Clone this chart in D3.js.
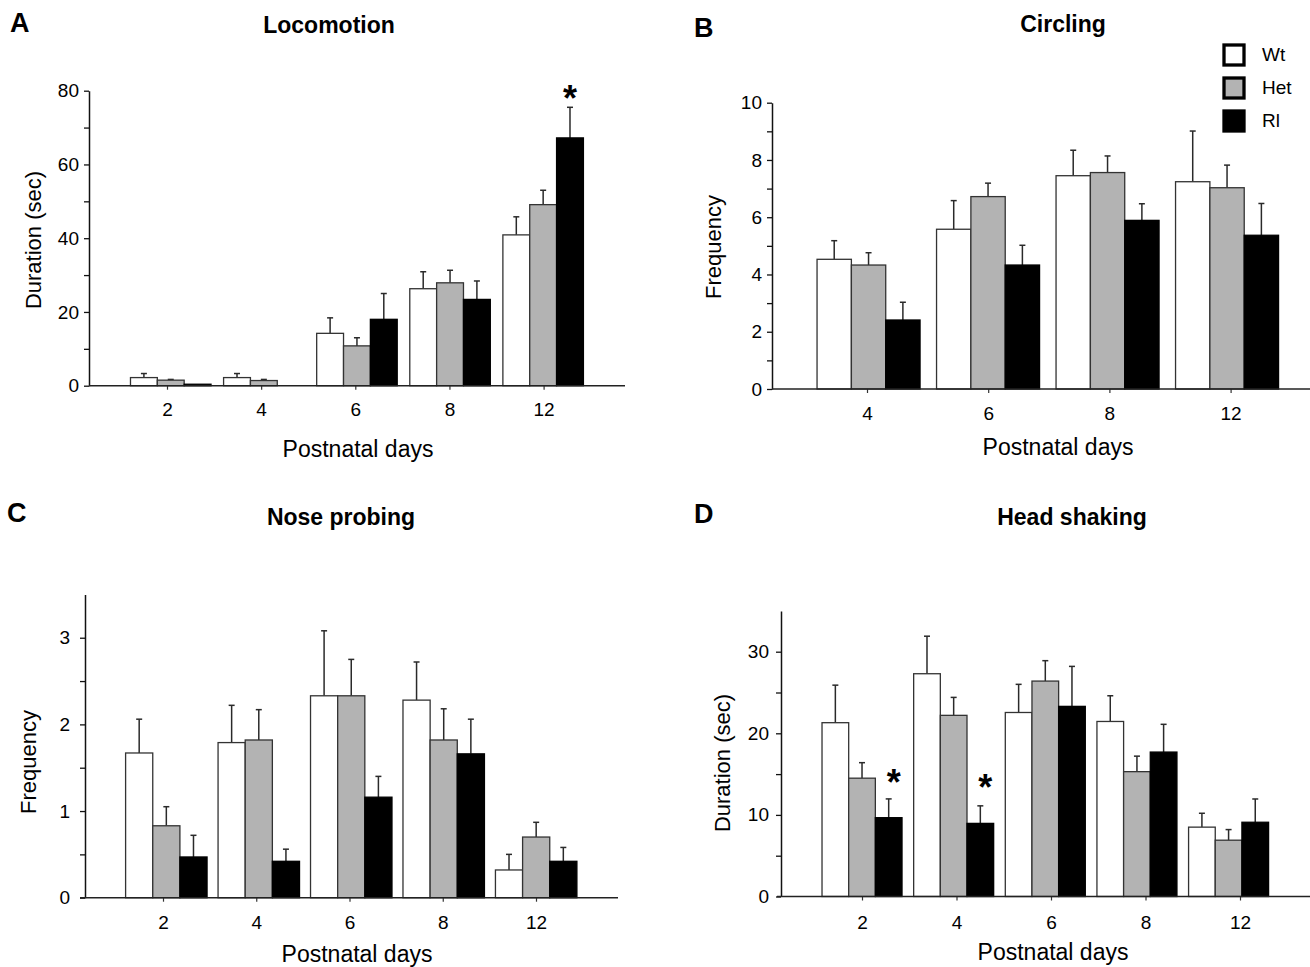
<!DOCTYPE html>
<html><head><meta charset="utf-8">
<script src="https://cdn.jsdelivr.net/npm/d3@7"></script>
<style>body{margin:0;background:#fff}svg text{font-family:"Liberation Sans",Arial,sans-serif;fill:#000}</style>
</head><body>
<svg id="chart" width="1310" height="967"></svg>
<script>
// ---------------- DATA ----------------
const seriesNames = ["Wt", "Het", "Rl"];

// A: Locomotion, duration (sec)
const locoDays = ["2", "4", "6", "8", "12"];
const locoWt = [2.2, 2.2, 14.2, 26.3, 40.9];
const locoHet = [1.5, 1.4, 10.8, 27.9, 49.1];
const locoRl = [0.4, 0.0, 18.0, 23.4, 67.2];
const locoWtSem = [1.1, 1.1, 4.2, 4.6, 4.9];
const locoHetSem = [0.2, 0.3, 2.2, 3.4, 3.9];
const locoRlSem = [0, 0, 7.0, 5.0, 8.3];
const locoTicks = [0, 20, 40, 60, 80];
const locoMinor = [10, 30, 50, 70];
const locoStars = [{ day: "12", series: "Rl", at: 80 }];

// B: Circling, frequency
const circDays = ["4", "6", "8", "12"];
const circWt = [4.53, 5.58, 7.45, 7.24];
const circHet = [4.33, 6.72, 7.56, 7.03];
const circRl = [2.41, 4.33, 5.89, 5.37];
const circWtSem = [0.65, 1.0, 0.89, 1.77];
const circHetSem = [0.43, 0.47, 0.58, 0.79];
const circRlSem = [0.62, 0.69, 0.58, 1.11];
const circTicks = [0, 2, 4, 6, 8, 10];
const circMinor = [1, 3, 5, 7, 9];

// C: Nose probing, frequency
const noseDays = ["2", "4", "6", "8", "12"];
const noseWt = [1.67, 1.79, 2.33, 2.28, 0.32];
const noseHet = [0.83, 1.82, 2.33, 1.82, 0.70];
const noseRl = [0.47, 0.42, 1.16, 1.66, 0.42];
const noseWtSem = [0.39, 0.43, 0.75, 0.44, 0.18];
const noseHetSem = [0.22, 0.35, 0.42, 0.36, 0.17];
const noseRlSem = [0.25, 0.14, 0.24, 0.40, 0.16];
const noseTicks = [0, 1, 2, 3];
const noseMinor = [0.5, 1.5, 2.5];

// D: Head shaking, duration (sec)
const headDays = ["2", "4", "6", "8", "12"];
const headWt = [21.3, 27.3, 22.55, 21.45, 8.5];
const headHet = [14.5, 22.2, 26.4, 15.3, 6.9];
const headRl = [9.66, 8.96, 23.3, 17.7, 9.1];
const headWtSem = [4.6, 4.6, 3.45, 3.15, 1.7];
const headHetSem = [1.9, 2.2, 2.5, 1.9, 1.3];
const headRlSem = [2.3, 2.15, 4.9, 3.4, 2.85];
const headTicks = [0, 10, 20, 30];
const headMinor = [5, 15, 25];
const headStars = [{ day: "2", series: "Rl", at: 14.9 }, { day: "4", series: "Rl", at: 14.3 }];

// ---------------- STYLE ----------------
const fills = { Wt: "#ffffff", Het: "#b3b3b3", Rl: "#000000" };
const svg = d3.select("#chart");

const panels = [
  { letter: "A", letterPos: [10, 32], title: "Locomotion", titlePos: [329, 33],
    days: locoDays, values: [locoWt, locoHet, locoRl], sems: [locoWtSem, locoHetSem, locoRlSem],
    yDomain: [0, 80], yRange: [385.7, 90.7], major: locoTicks, minor: locoMinor,
    band: [124.2, 589.7], pad: 0.135, tickRange: [167, 543.6], xLine: [89, 625], yAxisX: 89,
    yLabel: "Duration (sec)", yLabelPos: [33, 240], xLabelPos: [358, 457], tickPad: 5, tickY: 13,
    stars: locoStars, starDx: 0 },
  { letter: "B", letterPos: [694, 37], title: "Circling", titlePos: [1063, 32],
    days: circDays, values: [circWt, circHet, circRl], sems: [circWtSem, circHetSem, circRlSem],
    yDomain: [0, 10], yRange: [389, 102.7], major: circTicks, minor: circMinor,
    band: [808.8, 1286.8], pad: 0.138, tickRange: [867, 1230.6], xLine: [772, 1310], yAxisX: 772,
    yLabel: "Frequency", yLabelPos: [713, 247], xLabelPos: [1058, 455], tickPad: 5, tickY: 14,
    stars: [], starDx: 0, legend: true },
  { letter: "C", letterPos: [7, 522], title: "Nose probing", titlePos: [341, 525],
    days: noseDays, values: [noseWt, noseHet, noseRl], sems: [noseWtSem, noseHetSem, noseRlSem],
    yDomain: [0, 3.5], yRange: [897.7, 594.4], major: noseTicks, minor: noseMinor,
    band: [120.1, 582.4], pad: 0.119, tickRange: [163, 536], xLine: [80, 618], yAxisX: 85,
    yLabel: "Frequency", yLabelPos: [28, 762], xLabelPos: [357, 962], tickPad: 10, tickY: 14,
    stars: [], starDx: 0 },
  { letter: "D", letterPos: [694, 523], title: "Head shaking", titlePos: [1072, 525],
    days: headDays, values: [headWt, headHet, headRl], sems: [headWtSem, headHetSem, headRlSem],
    yDomain: [0, 35], yRange: [896.5, 610.9], major: headTicks, minor: headMinor,
    band: [816.2, 1274.4], pad: 0.127, tickRange: [862, 1240], xLine: [777, 1310], yAxisX: 781,
    yLabel: "Duration (sec)", yLabelPos: [722, 763], xLabelPos: [1053, 960], tickPad: 7, tickY: 15,
    stars: headStars, starDx: 5 }
];

function drawPanel(p) {
  const g = svg.append("g");
  const x = d3.scaleBand().domain(p.days).range(p.band).paddingInner(p.pad).paddingOuter(p.pad / 2);
  const xs = d3.scaleBand().domain(seriesNames).range([0, x.bandwidth()]);
  const xt = d3.scalePoint().domain(p.days).range(p.tickRange);
  const y = d3.scaleLinear().domain(p.yDomain).range(p.yRange);

  const rows = [];
  p.days.forEach((d, i) => seriesNames.forEach((s, j) =>
    rows.push({ day: d, series: s, v: p.values[j][i], e: p.sems[j][i] })));

  // error bars (stems + caps)
  const eb = g.append("g").attr("stroke", "#2a2a2a").attr("stroke-width", 1.5);
  rows.filter(r => r.e > 0).forEach(r => {
    const cx = x(r.day) + xs(r.series) + xs.bandwidth() / 2;
    eb.append("line").attr("x1", cx).attr("x2", cx).attr("y1", y(r.v)).attr("y2", y(r.v + r.e));
    eb.append("line").attr("x1", cx - 3).attr("x2", cx + 3).attr("y1", y(r.v + r.e)).attr("y2", y(r.v + r.e));
  });

  // bars
  g.append("g").selectAll("rect").data(rows).join("rect")
    .attr("x", r => x(r.day) + xs(r.series))
    .attr("width", xs.bandwidth())
    .attr("y", r => y(r.v))
    .attr("height", r => y(0) - y(r.v))
    .attr("fill", r => fills[r.series])
    .attr("stroke", r => r.series === "Rl" ? "#000" : "#333")
    .attr("stroke-width", 1.3);

  // y axis major
  const ya = g.append("g").attr("transform", `translate(${p.yAxisX},0)`)
    .call(d3.axisLeft(y).tickValues(p.major).tickSize(5).tickSizeOuter(0).tickPadding(p.tickPad).tickFormat(d3.format("")));
  ya.select(".domain").attr("stroke", "#111").attr("stroke-width", 1.5);
  ya.selectAll(".tick line").attr("stroke", "#111").attr("stroke-width", 1.3);
  ya.selectAll(".tick text").attr("font-size", 19).attr("font-family", "Liberation Sans, Arial, sans-serif");
  // y axis minor
  const ym = g.append("g").attr("transform", `translate(${p.yAxisX},0)`)
    .call(d3.axisLeft(y).tickValues(p.minor).tickSize(5).tickFormat(""));
  ym.select(".domain").remove();
  ym.selectAll(".tick line").attr("stroke", "#111").attr("stroke-width", 1.3);

  // x axis
  const xa = g.append("g").attr("transform", `translate(0,${y(0)})`)
    .call(d3.axisBottom(xt).tickSize(4).tickPadding(p.tickY));
  xa.select(".domain").remove();
  xa.selectAll(".tick line").attr("stroke", "#333").attr("stroke-width", 1.2);
  xa.selectAll(".tick text").attr("font-size", 19).attr("font-family", "Liberation Sans, Arial, sans-serif");
  g.append("line").attr("x1", p.xLine[0]).attr("x2", p.xLine[1]).attr("y1", y(0)).attr("y2", y(0))
    .attr("stroke", "#222").attr("stroke-width", 1.5);

  // stars
  p.stars.forEach(s => {
    const fs = 36;
    g.append("text").text("*")
      .attr("x", x(s.day) + xs(s.series) + xs.bandwidth() / 2 + p.starDx)
      .attr("y", y(s.at) + fs * 0.57)
      .attr("text-anchor", "middle").attr("font-weight", "bold").attr("font-size", fs);
  });

  // labels
  g.append("text").text(p.letter).attr("x", p.letterPos[0]).attr("y", p.letterPos[1])
    .attr("font-weight", "bold").attr("font-size", 27);
  g.append("text").text(p.title).attr("x", p.titlePos[0]).attr("y", p.titlePos[1])
    .attr("text-anchor", "middle").attr("font-weight", "bold").attr("font-size", 23);
  g.append("text").text("Postnatal days").attr("x", p.xLabelPos[0]).attr("y", p.xLabelPos[1])
    .attr("text-anchor", "middle").attr("font-size", 23);
  g.append("text").text(p.yLabel)
    .attr("transform", `translate(${p.yLabelPos[0]},${p.yLabelPos[1]}) rotate(-90)`)
    .attr("text-anchor", "middle").attr("dominant-baseline", "central").attr("font-size", 22);

  if (p.legend) {
    const lg = svg.append("g").attr("transform", "translate(1224,45)");
    seriesNames.forEach((s, i) => {
      const row = lg.append("g").attr("transform", `translate(0,${i * 33})`);
      row.append("rect").attr("x", 0).attr("y", 0).attr("width", 20).attr("height", 20)
        .attr("fill", fills[s]).attr("stroke", "#000").attr("stroke-width", 3.3);
      row.append("text").text(s).attr("x", 38).attr("y", 16).attr("font-size", 19);
    });
  }
}

panels.forEach(drawPanel);
</script>
</body></html>
